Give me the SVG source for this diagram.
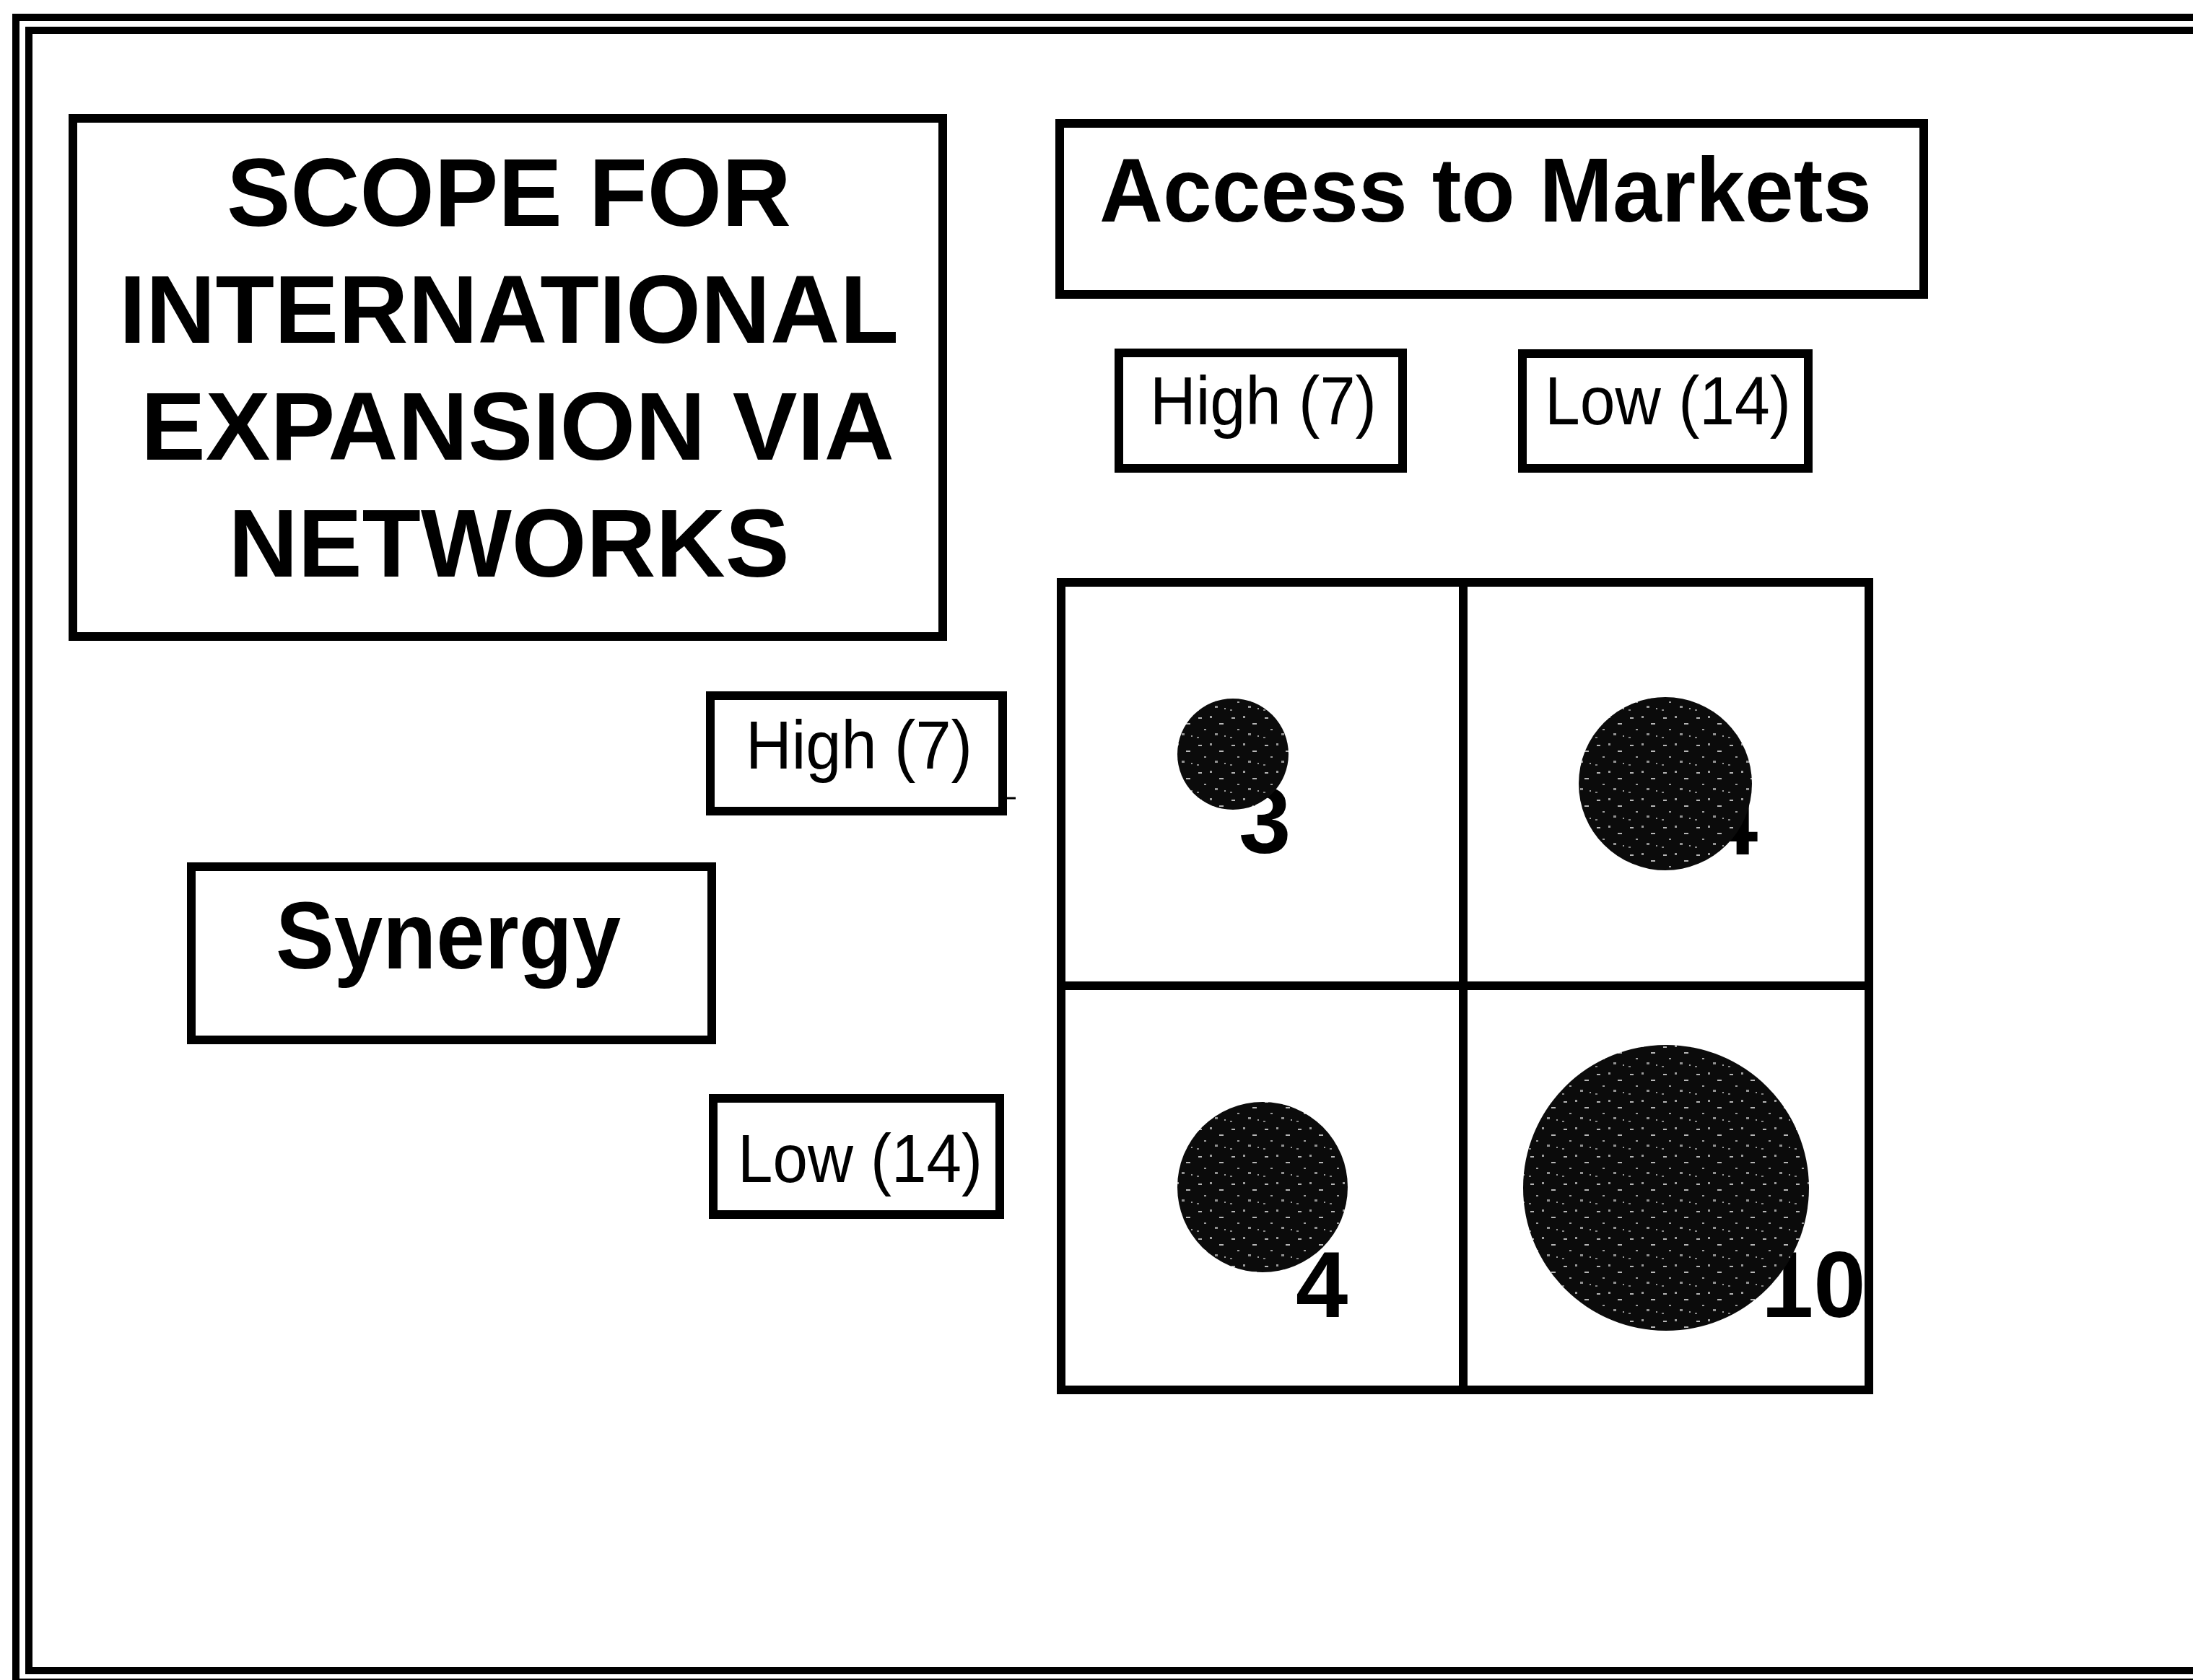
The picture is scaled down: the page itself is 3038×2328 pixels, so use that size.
<svg xmlns="http://www.w3.org/2000/svg" width="3038" height="2328" viewBox="0 0 3038 2328">
<style>
.box{fill:none;stroke:#000;stroke-width:12}
.frame{fill:none;stroke:#000;stroke-width:10}
.grid{fill:none;stroke:#000;stroke-width:12}
.bold{font-family:"Liberation Sans",Arial,Helvetica,sans-serif;font-weight:bold;fill:#000}
.reg{font-family:"Liberation Sans",Arial,Helvetica,sans-serif;font-weight:normal;fill:#000}
.dot{fill:url(#speck)}
</style>
<defs>
<pattern id="speck" patternUnits="userSpaceOnUse" width="46" height="38">
<rect width="46" height="38" fill="#0b0b0b"/>
<rect x="4" y="6" width="5" height="2" fill="#fff" opacity="0.7"/>
<rect x="20" y="4" width="3" height="3" fill="#fff" opacity="0.6"/>
<rect x="33" y="14" width="6" height="2" fill="#fff" opacity="0.7"/>
<rect x="12" y="22" width="3" height="2" fill="#fff" opacity="0.6"/>
<rect x="27" y="28" width="4" height="3" fill="#fff" opacity="0.55"/>
<rect x="40" y="31" width="2" height="2" fill="#fff" opacity="0.6"/>
<rect x="2" y="33" width="3" height="2" fill="#fff" opacity="0.5"/>
</pattern>
</defs>
<rect width="3038" height="2328" fill="#fff"/>

<g id="frame">
<rect class="frame" x="22" y="24" width="3100" height="2307"/>
<rect class="frame" x="40" y="42" width="3100" height="2273"/>
</g>

<g id="connectors"></g>

<g id="title">
<rect class="box" x="101" y="164" width="1205" height="718"/>
<text class="bold" font-size="133" text-anchor="middle" x="705" y="313" textLength="782" lengthAdjust="spacingAndGlyphs">SCOPE FOR</text>
<text class="bold" font-size="133" text-anchor="middle" x="705" y="475" textLength="1080" lengthAdjust="spacingAndGlyphs">INTERNATIONAL</text>
<text class="bold" font-size="133" text-anchor="middle" x="717" y="637" textLength="1044" lengthAdjust="spacingAndGlyphs">EXPANSION VIA</text>
<text class="bold" font-size="133" text-anchor="middle" x="705" y="799" textLength="777" lengthAdjust="spacingAndGlyphs">NETWORKS</text>
</g>

<g id="access-to-markets">
<rect class="box" x="1468" y="171" width="1197" height="237"/>
<text class="bold" font-size="126" x="1523" y="307" textLength="1070" lengthAdjust="spacingAndGlyphs">Access to Markets</text>
</g>

<g id="access-high">
<rect class="box" x="1550" y="489" width="393" height="160"/>
<text class="reg" font-size="94" x="1593" y="588" textLength="314" lengthAdjust="spacingAndGlyphs">High (7)</text>
</g>

<g id="access-low">
<rect class="box" x="2109" y="490" width="396" height="159"/>
<text class="reg" font-size="94" x="2140" y="588" textLength="341" lengthAdjust="spacingAndGlyphs">Low (14)</text>
</g>

<g id="synergy">
<rect class="box" x="265" y="1201" width="721" height="240"/>
<text class="bold" font-size="131" x="382" y="1342" textLength="478" lengthAdjust="spacingAndGlyphs">Synergy</text>
</g>

<g id="synergy-high">
<rect class="box" x="984" y="964" width="405" height="160"/>
<path d="M1395 1106 H1407" stroke="#000" stroke-width="3"/>
<text class="reg" font-size="94" x="1033" y="1065" textLength="314" lengthAdjust="spacingAndGlyphs">High (7)</text>
</g>

<g id="synergy-low">
<rect class="box" x="988" y="1522" width="397" height="161"/>
<text class="reg" font-size="94" x="1022" y="1638" textLength="339" lengthAdjust="spacingAndGlyphs">Low (14)</text>
</g>

<g id="cell-high-high">
<text class="bold" font-size="130" x="1716" y="1182">3</text>
<circle class="dot" cx="1708" cy="1045" r="77"/>
</g>

<g id="cell-high-low">
<text class="bold" font-size="130" x="2363" y="1184">4</text>
<circle class="dot" cx="2307" cy="1086" r="120"/>
</g>

<g id="cell-low-high">
<text class="bold" font-size="130" x="1795" y="1825">4</text>
<circle class="dot" cx="1749" cy="1645" r="118"/>
</g>

<g id="cell-low-low">
<text class="bold" font-size="130" x="2440" y="1825">10</text>
<circle class="dot" cx="2308" cy="1646" r="198"/>
</g>

<g id="matrix">
<rect class="grid" x="1470" y="807" width="1119" height="1119"/>
<path class="grid" d="M2027 807 V1926 M1470 1366 H2589"/>
</g>
</svg>
